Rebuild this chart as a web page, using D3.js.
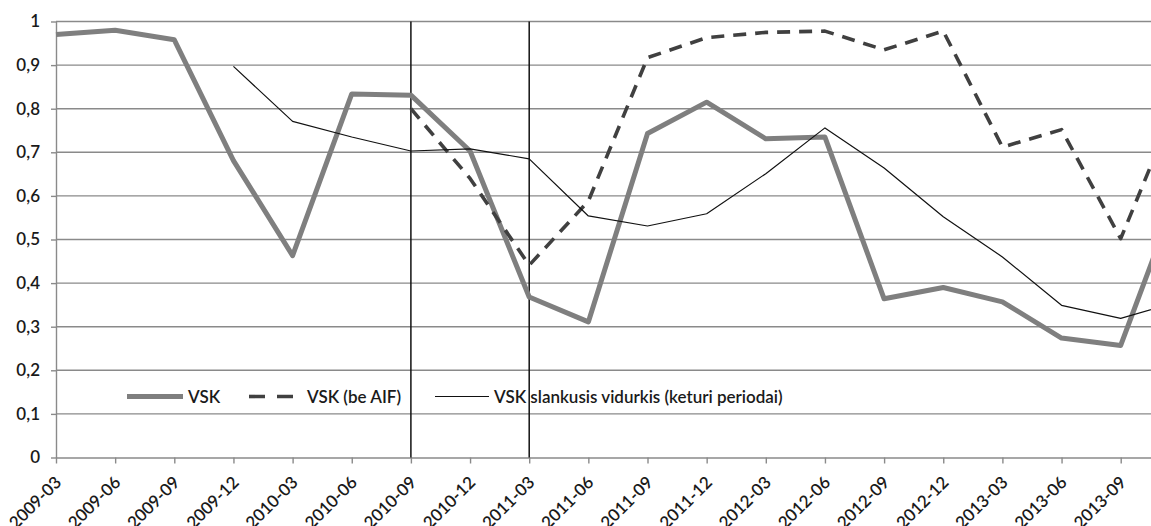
<!DOCTYPE html>
<html>
<head>
<meta charset="utf-8">
<script src="https://cdn.jsdelivr.net/npm/d3@7"></script>
<style>
  body { margin: 0; background: #fff; }
  svg { display: block; }
  text { font-family: Lato, "Open Sans", sans-serif; font-weight: 600; fill: #1a1a1a; }
</style>
</head>
<body>
<svg width="1151" height="526"></svg>
<script>
var categories = ["2009-03", "2009-06", "2009-09", "2009-12", "2010-03", "2010-06", "2010-09",
                  "2010-12", "2011-03", "2011-06", "2011-09", "2011-12", "2012-03", "2012-06",
                  "2012-09", "2012-12", "2013-03", "2013-06", "2013-09", "2013-12"];
var tickLabels = categories.slice(0, 19);
var yTicks = [0, 0.1, 0.2, 0.3, 0.4, 0.5, 0.6, 0.7, 0.8, 0.9, 1];

var vsk = [0.970, 0.980, 0.958, 0.681, 0.463, 0.834, 0.831, 0.703, 0.368, 0.311,
           0.743, 0.815, 0.731, 0.735, 0.364, 0.390, 0.357, 0.274, 0.257, 0.620];
var vskBeAif = [null, null, null, null, null, null, 0.800, 0.640, 0.441, 0.588,
                0.917, 0.963, 0.975, 0.978, 0.935, 0.978, 0.712, 0.752, 0.502, 0.830];
var vskAvg = [null, null, null, 0.897, 0.771, 0.735, 0.703, 0.708, 0.685, 0.554,
              0.531, 0.559, 0.651, 0.756, 0.664, 0.552, 0.460, 0.349, 0.319, 0.358];
var markers = ["2010-09", "2011-03"];

var seriesNames = ["VSK", "VSK (be AIF)", "VSK slankusis vidurkis (keturi periodai)"];

var svg = d3.select("svg"),
    width = +svg.attr("width"),
    plotLeft = 56,
    plotTop = 21.5,
    plotBottom = 457.5,
    step = 59.15;

var x = d3.scalePoint().domain(categories).range([plotLeft, plotLeft + step * (categories.length - 1)]),
    y = d3.scaleLinear().domain([0, 1]).range([plotBottom, plotTop]);

var lt = d3.formatLocale({decimal: ",", thousands: " ", grouping: [3], currency: ["", ""]});

// horizontal gridlines
svg.append("g")
   .selectAll("line")
   .data(yTicks.slice(1))
   .enter().append("line")
   .attr("x1", plotLeft)
   .attr("x2", width)
   .attr("y1", function(d) { return y(d); })
   .attr("y2", function(d) { return y(d); })
   .style("stroke", "#8a8a8a")
   .style("stroke-width", 1.4);

// y axis
var yAxis = svg.append("g")
   .attr("transform", "translate(" + plotLeft + ",0)")
   .call(d3.axisLeft(y).tickValues(yTicks).tickSize(5).tickSizeOuter(0).tickPadding(11)
          .tickFormat(lt.format(".1~f")));
yAxis.selectAll("path, line").style("stroke", "#8a8a8a").style("stroke-width", 1.4);
yAxis.selectAll("text").attr("font-size", "17px").style("font-family", "Lato, sans-serif");

// x axis
var xAxis = svg.append("g")
   .attr("transform", "translate(0," + plotBottom + ")")
   .call(d3.axisBottom(x).tickValues(tickLabels).tickSize(6).tickSizeOuter(0));
xAxis.selectAll("path, line").style("stroke", "#8a8a8a").style("stroke-width", 1.4);
xAxis.selectAll("text")
     .attr("x", 0)
     .attr("y", 0)
     .attr("dy", 0)
     .attr("transform", "translate(6,26) rotate(-45)")
     .attr("text-anchor", "end")
     .attr("font-size", "17px")
     .style("font-family", "Lato, sans-serif");

// period markers
svg.append("g")
   .selectAll("line")
   .data(markers)
   .enter().append("line")
   .attr("x1", function(d) { return x(d); })
   .attr("x2", function(d) { return x(d); })
   .attr("y1", y(1))
   .attr("y2", y(0))
   .style("stroke", "#111")
   .style("stroke-width", 1.5);

var line = d3.line()
   .defined(function(d) { return d != null; })
   .x(function(d, i) { return x(categories[i]); })
   .y(function(d) { return y(d); });

var styles = [
  {stroke: "#7f7f7f", width: 5, dash: null},
  {stroke: "#404040", width: 3.6, dash: "13,9"},
  {stroke: "#111", width: 1.2, dash: null}
];

[vsk, vskBeAif, vskAvg].forEach(function(values, k) {
  svg.append("path")
     .datum(values)
     .attr("d", line)
     .style("fill", "none")
     .style("stroke", styles[k].stroke)
     .style("stroke-width", styles[k].width)
     .style("stroke-dasharray", styles[k].dash)
     .style("stroke-linejoin", "round");
});

// legend
var legendY = 396.5,
    legendX = [127, 249, 435],
    sampleW = [56, 44, 54];

seriesNames.forEach(function(name, k) {
  var g = svg.append("g").attr("transform", "translate(" + legendX[k] + "," + legendY + ")");
  g.append("line")
   .attr("x1", 0).attr("x2", sampleW[k])
   .style("stroke", styles[k].stroke)
   .style("stroke-width", styles[k].width)
   .style("stroke-dasharray", k === 1 ? "16,12" : null);
  g.append("text")
   .attr("x", sampleW[k] + (k === 1 ? 14 : 5))
   .attr("dy", "0.36em")
   .attr("font-size", "17px")
   .text(name);
});
</script>
</body>
</html>
